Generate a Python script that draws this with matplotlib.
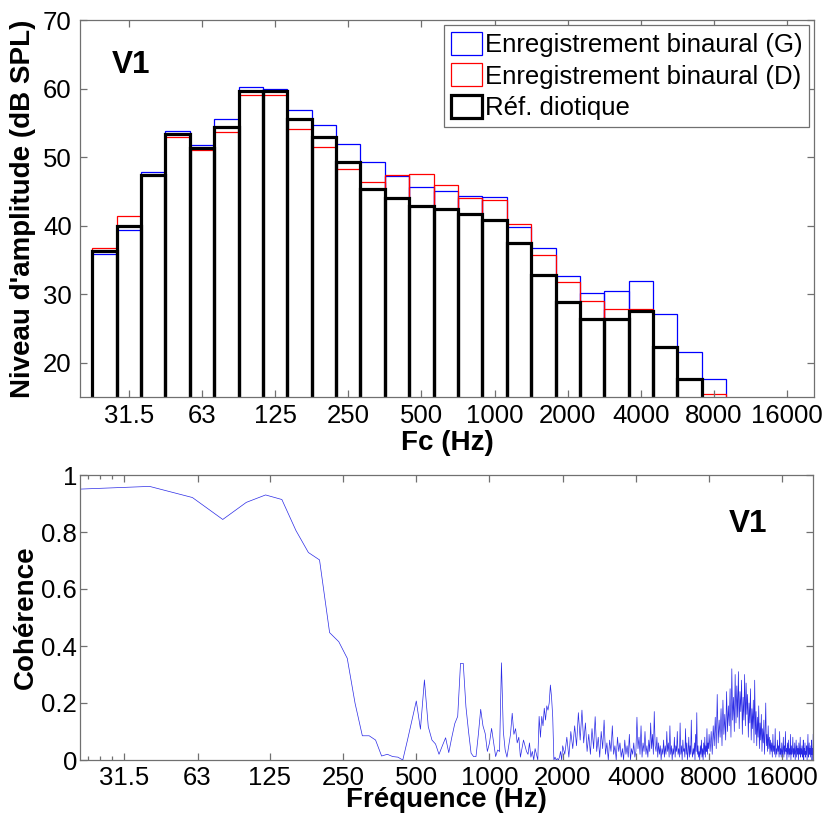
import numpy as np
import matplotlib
matplotlib.use('Agg')
import matplotlib.pyplot as plt
from matplotlib.ticker import FixedLocator, NullFormatter, FixedFormatter

plt.rcParams['font.family'] = ['Liberation Sans', 'DejaVu Sans']

# ---------------- data: third-octave levels ----------------
bands = ['25', '31.5', '40', '50', '63', '80', '100', '125', '160', '200', '250',
         '315', '400', '500', '630', '800', '1000', '1250', '1600', '2000', '2500',
         '3150', '4000', '5000', '6300', '8000']
level_G = [35.8, 39.3, 47.8, 53.8, 51.8, 55.6, 60.2, 60.0, 56.9, 54.7, 51.9,
           49.3, 47.3, 45.7, 45.05, 44.3, 44.2, 39.85, 36.7, 32.7, 30.2,
           30.4, 31.9, 27.1, 21.6, 17.6]
level_D = [36.8, 41.4, 47.4, 53.0, 51.0, 53.6, 59.1, 59.05, 54.1, 51.5, 48.3,
           46.4, 47.4, 47.5, 45.9, 44.1, 43.7, 40.3, 35.7, 31.8, 29.05,
           27.9, 27.8, 22.35, 17.6, 15.5]
level_ref = [36.35, 39.95, 47.4, 53.3, 51.3, 54.4, 59.6, 59.6, 55.6, 53.0, 49.3,
             45.4, 44.1, 42.9, 42.4, 41.65, 40.8, 37.4, 32.8, 28.8, 26.4,
             26.35, 27.5, 22.35, 17.6, 14.0]
xtick_labels = ['31.5', '63', '125', '250', '500', '1000', '2000', '4000', '8000', '16000']

# ---------------- data: coherence ----------------
coh_f_lo = np.arange(20, 2001, 20)
coh_lo = [0.950, 0.960, 0.921, 0.844, 0.904, 0.930, 0.914, 0.805, 0.728, 0.702,
          0.447, 0.415, 0.357, 0.199, 0.085, 0.085, 0.070, 0.014, 0.020, 0.012,
          0.010, 0.000, 0.070, 0.140, 0.207, 0.108, 0.281, 0.117, 0.070, 0.056,
          0.020, 0.050, 0.078, 0.026, 0.080, 0.128, 0.153, 0.339, 0.339, 0.187,
          0.100, 0.024, 0.012, 0.012, 0.090, 0.178, 0.120, 0.093, 0.030, 0.060,
          0.111, 0.060, 0.012, 0.035, 0.030, 0.341, 0.100, 0.035, 0.010, 0.050,
          0.090, 0.164, 0.090, 0.110, 0.060, 0.080, 0.010, 0.040, 0.070, 0.050,
          0.030, 0.020, 0.060, 0.010, 0.030, 0.000, 0.040, 0.020, 0.000, 0.153,
          0.080, 0.153, 0.120, 0.182, 0.140, 0.190, 0.175, 0.200, 0.263, 0.220,
          0.150, 0.000, 0.010, 0.000, 0.005, 0.000, 0.010, 0.030, 0.000, 0.050]
coh_f_mid = np.arange(2040, 8001, 40)
coh_mid = [0.02, 0.08, 0.01, 0.10, 0.04, 0.12, 0.05, 0.166, 0.07, 0.175,
           0.06, 0.13, 0.03, 0.09, 0.02, 0.11, 0.04, 0.152, 0.03, 0.08,
           0.01, 0.10, 0.04, 0.14, 0.02, 0.06, 0.00, 0.07, 0.03, 0.12,
           0.02, 0.05, 0.00, 0.08, 0.03, 0.06, 0.01, 0.04, 0.00, 0.07,
           0.02, 0.05, 0.01, 0.09, 0.00, 0.04, 0.02, 0.06, 0.01, 0.03,
           0.15, 0.04, 0.08, 0.02, 0.12, 0.01, 0.06, 0.03, 0.10, 0.02,
           0.05, 0.01, 0.07, 0.03, 0.13, 0.04, 0.09, 0.02, 0.17, 0.05,
           0.03, 0.08, 0.01, 0.06, 0.02, 0.05, 0.00, 0.04, 0.02, 0.07,
           0.01, 0.05, 0.02, 0.10, 0.03, 0.06, 0.01, 0.12, 0.02, 0.05,
           0.00, 0.04, 0.02, 0.08, 0.01, 0.05, 0.03, 0.10, 0.02, 0.04,
           0.01, 0.13, 0.02, 0.05, 0.00, 0.07, 0.03, 0.04, 0.01, 0.11,
           0.02, 0.06, 0.00, 0.03, 0.08, 0.01, 0.05, 0.02, 0.14, 0.03,
           0.01, 0.04, 0.02, 0.06, 0.00, 0.09, 0.03, 0.166, 0.02, 0.05,
           0.01, 0.03, 0.00, 0.05, 0.02, 0.07, 0.01, 0.04, 0.00, 0.06,
           0.02, 0.08, 0.01, 0.05, 0.03, 0.11, 0.02, 0.06, 0.04, 0.09]
coh_f_hi = np.arange(8080, 21441, 80)
coh_hi = [0.03, 0.10, 0.02, 0.12, 0.05, 0.15, 0.04, 0.23, 0.06, 0.14,
          0.08, 0.18, 0.05, 0.21, 0.09, 0.16, 0.07, 0.24, 0.10, 0.19,
          0.12, 0.25, 0.08, 0.32, 0.14, 0.22, 0.10, 0.30, 0.13, 0.26,
          0.15, 0.31, 0.11, 0.24, 0.17, 0.28, 0.09, 0.22, 0.14, 0.30,
          0.12, 0.27, 0.16, 0.23, 0.08, 0.20, 0.13, 0.25, 0.07, 0.18,
          0.11, 0.21, 0.06, 0.28, 0.09, 0.17, 0.05, 0.15, 0.08, 0.19,
          0.04, 0.13, 0.07, 0.16, 0.03, 0.11, 0.06, 0.14, 0.02, 0.10,
          0.20, 0.05, 0.09, 0.03, 0.12, 0.04, 0.08, 0.02, 0.07, 0.03,
          0.06, 0.01, 0.09, 0.03, 0.05, 0.02, 0.11, 0.01, 0.04, 0.02,
          0.07, 0.03, 0.05, 0.01, 0.10, 0.02, 0.04, 0.01, 0.06, 0.02,
          0.03, 0.08, 0.01, 0.05, 0.02, 0.10, 0.03, 0.04, 0.00, 0.06,
          0.02, 0.07, 0.01, 0.04, 0.02, 0.09, 0.00, 0.05, 0.02, 0.03,
          0.08, 0.01, 0.04, 0.02, 0.06, 0.00, 0.03, 0.07, 0.01, 0.05,
          0.02, 0.04, 0.00, 0.06, 0.02, 0.03, 0.08, 0.01, 0.04, 0.02,
          0.05, 0.01, 0.03, 0.07, 0.00, 0.04, 0.02, 0.06, 0.01, 0.03,
          0.02, 0.05, 0.00, 0.04, 0.09, 0.01, 0.03, 0.06, 0.02, 0.04,
          0.01, 0.05, 0.02, 0.07, 0.00, 0.04, 0.02, 0.09]
coh_ticks = [31.5, 63, 125, 250, 500, 1000, 2000, 4000, 8000, 16000]
coh_minor = [22.4, 25, 28]

coh_f = np.concatenate([coh_f_lo, coh_f_mid, coh_f_hi])
coh = np.concatenate([coh_lo, coh_mid, coh_hi])

# ---------------- figure ----------------
W, H = 827, 816
fig = plt.figure(figsize=(W / 100, H / 100), dpi=100)
ax1 = fig.add_axes([80 / W, 1 - 397 / H, 734 / W, 377 / H])
ax2 = fig.add_axes([80 / W, 1 - 760 / H, 733 / W, 285 / H])

spine_c = '#707070'
tick_fs = 18.5
lab_fs = 20

x = np.arange(len(bands))
ax1.bar(x, level_G, width=1, bottom=0, fill=False, edgecolor='#0000ff',
        linewidth=0.9, label='Enregistrement binaural (G)')
ax1.bar(x, level_D, width=1, bottom=0, fill=False, edgecolor='#ff0000',
        linewidth=0.9, label='Enregistrement binaural (D)')
ax1.bar(x, level_ref, width=1, bottom=0, fill=False, edgecolor='black',
        linewidth=2.3, label='Réf. diotique')
ax1.set_xlim(-1.0, 29.1)
ax1.set_ylim(15, 70)
tick_pos = [np.round(3 * np.log2(float(t) / 25.0)) for t in xtick_labels]
ax1.set_xticks(tick_pos)
ax1.set_xticklabels(xtick_labels)
ax1.set_yticks([20, 30, 40, 50, 60, 70])
ax1.set_xlabel('Fc (Hz)', fontsize=lab_fs, fontweight='bold')
ax1.set_ylabel("Niveau d'amplitude (dB SPL)", fontsize=lab_fs, fontweight='bold')
ax1.xaxis.set_label_coords(0.5, -0.088)
ax1.yaxis.set_label_coords(-0.060, 0.5)
ax1.text(0.0436, 0.8586, 'V1', transform=ax1.transAxes, fontsize=22.7,
         fontweight='bold', ha='left', va='baseline')
leg = ax1.legend(loc='upper right', fontsize=tick_fs, frameon=True, fancybox=False,
                 framealpha=1, edgecolor=spine_c, borderaxespad=0.2, borderpad=0.25,
                 handletextpad=0.12, handlelength=1.2, handleheight=1.0,
                 labelspacing=0.25)
leg.get_frame().set_linewidth(0.9)

ax2.plot(coh_f, coh, color='#2a2ae6', linewidth=0.5)
ax2.set_xscale('log')
ax2.set_xlim(20.7, 21400)
ax2.set_ylim(0, 1)
ax2.xaxis.set_major_locator(FixedLocator(coh_ticks))
ax2.xaxis.set_major_formatter(FixedFormatter(xtick_labels))
ax2.xaxis.set_minor_locator(FixedLocator(coh_minor))
ax2.xaxis.set_minor_formatter(NullFormatter())
ax2.set_yticks([0, 0.2, 0.4, 0.6, 0.8, 1])
ax2.set_yticklabels(['0', '0.2', '0.4', '0.6', '0.8', '1'])
ax2.set_xlabel('Fréquence (Hz)', fontsize=lab_fs, fontweight='bold')
ax2.set_ylabel('Cohérence', fontsize=lab_fs, fontweight='bold')
ax2.xaxis.set_label_coords(0.5, -0.095)
ax2.yaxis.set_label_coords(-0.0555, 0.5)
ax2.text(0.8845, 0.801, 'V1', transform=ax2.transAxes, fontsize=22.7,
         fontweight='bold', ha='left', va='baseline')

for ax, ypad in ((ax1, 6), (ax2, 2)):
    for s in ax.spines.values():
        s.set_color(spine_c)
        s.set_linewidth(0.9)
    ax.tick_params(axis='both', which='both', direction='in', top=True, right=True,
                   color=spine_c, width=0.9, labelsize=tick_fs)
    ax.tick_params(axis='both', which='major', length=5)
    ax.tick_params(axis='both', which='minor', length=3)
    ax.tick_params(axis='y', pad=ypad)
ax1.tick_params(axis='x', pad=5)
ax2.tick_params(axis='x', pad=4)

fig.savefig('out.png', dpi=100)
